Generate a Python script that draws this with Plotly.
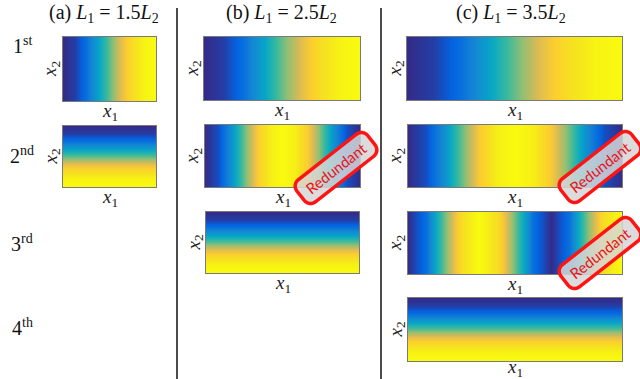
import math
import plotly.graph_objects as go

W, H = 640, 379

# column titles and row labels
titles = ["(a) <i>L</i><sub>1</sub> = 1.5<i>L</i><sub>2</sub>",
          "(b) <i>L</i><sub>1</sub> = 2.5<i>L</i><sub>2</sub>",
          "(c) <i>L</i><sub>1</sub> = 3.5<i>L</i><sub>2</sub>"]
row_labels = ["1<sup>st</sup>", "2<sup>nd</sup>", "3<sup>rd</sup>", "4<sup>th</sup>"]

# normalised mode-shape profiles (0 = dark blue, 1 = yellow)
half_wave = [0.0, 0.04, 0.15, 0.31, 0.5, 0.69, 0.85, 0.96, 1.0]
full_wave = [0.0, 0.07, 0.25, 0.5, 0.75, 0.93, 1.0, 0.93, 0.75, 0.5, 0.25, 0.07, 0.0]
three_half_wave = [0.0, 0.15, 0.5, 0.85, 1.0, 0.85, 0.5, 0.15, 0.0, 0.15, 0.5, 0.85, 1.0]

# modes per column: (direction, profile, redundant?)
col_a = [("x", half_wave, False), ("y", half_wave, False)]
col_b = [("x", half_wave, False), ("x", full_wave, True), ("y", half_wave, False)]
col_c = [("x", half_wave, False), ("x", full_wave, True), ("x", three_half_wave, True), ("y", half_wave, False)]
columns = [col_a, col_b, col_c]

# pixel boxes of the plots (left, right, top, bottom)
boxes = [
    [(63, 156, 37, 101), (63, 156, 126, 187)],
    [(204, 360, 37, 100), (205, 360, 125, 187), (206, 359, 212, 273)],
    [(407, 622, 37, 100), (408, 622, 125, 187), (408, 622, 212, 274), (408, 622, 298, 361)],
]
# stamp centres (px) for redundant modes
stamps = {(1, 1): (336, 168), (2, 1): (600, 167), (2, 2): (600, 253)}
title_x = [104, 281, 511]
row_y = [45, 155, 243, 327]
divider_x = [177, 381]

parula = [[0.0, "#352a87"], [0.11, "#0363e1"], [0.22, "#1485d4"], [0.33, "#06a7c6"],
          [0.44, "#38b99e"], [0.55, "#92bf73"], [0.66, "#d9ba56"], [0.77, "#fcce2e"],
          [0.88, "#f5e41d"], [1.0, "#f9fb0e"]]

serif = "Liberation Serif"


def px(x):
    return x / W


def py(y):
    return 1 - y / H


def stamp_path(cx, cy, w=90, h=28, r=8, ang=38):
    # rounded rectangle rotated by ang degrees (counter-clockwise on screen)
    pts = []
    corners = [(w / 2 - r, -h / 2 + r, -90), (w / 2 - r, h / 2 - r, 0),
               (-w / 2 + r, h / 2 - r, 90), (-w / 2 + r, -h / 2 + r, 180)]
    for ccx, ccy, a0 in corners:
        for s in range(7):
            a = math.radians(a0 + s * 15)
            pts.append((ccx + r * math.cos(a), ccy + r * math.sin(a)))
    t = math.radians(-ang)
    out = []
    for x, y in pts:
        X = cx + x * math.cos(t) - y * math.sin(t)
        Y = cy + x * math.sin(t) + y * math.cos(t)
        out.append("%.5f,%.5f" % (px(X), py(Y)))
    return "M" + " L".join(out) + " Z"


fig = go.Figure()
annotations = []
shapes = []
k = 0
for ci, col in enumerate(columns):
    for ri, (direction, prof, redundant) in enumerate(col):
        k += 1
        l, r, t, b = boxes[ci][ri]
        n = len(prof)
        if direction == "x":
            z = [prof, prof]
            xs = list(range(n))
            ys = [0, 1]
        else:
            z = [[v, v] for v in prof]
            xs = [0, 1]
            ys = list(range(n))
        xa = "x" if k == 1 else "x%d" % k
        ya = "y" if k == 1 else "y%d" % k
        fig.add_trace(go.Heatmap(z=z, x=xs, y=ys, colorscale=parula, zmin=0, zmax=1,
                                 zsmooth="best", showscale=False, hoverinfo="skip",
                                 xaxis=xa, yaxis=ya))
        axn = "" if k == 1 else str(k)
        fig.layout["xaxis" + axn] = dict(domain=[px(l), px(r)], range=[0, max(xs)],
                                         showticklabels=False, ticks="", showgrid=False,
                                         zeroline=False, showline=True, mirror=True,
                                         linecolor="#7a7a7a", linewidth=1, anchor=ya)
        fig.layout["yaxis" + axn] = dict(domain=[py(b), py(t)], range=[max(ys), 0],
                                         showticklabels=False, ticks="", showgrid=False,
                                         zeroline=False, showline=True, mirror=True,
                                         linecolor="#7a7a7a", linewidth=1, anchor=xa)
        # axis labels
        annotations.append(dict(x=px((l + r) / 2), y=py(min(b + 11, 368)), xref="paper", yref="paper",
                                text="<i>x</i><sub>1</sub>", showarrow=False,
                                xanchor="center", yanchor="middle",
                                font=dict(family=serif, size=19, color="#222")))
        annotations.append(dict(x=px(l - 12), y=py((t + b) / 2), xref="paper", yref="paper",
                                text="<i>x</i><sub>2</sub>", showarrow=False, textangle=-90,
                                xanchor="center", yanchor="middle",
                                font=dict(family=serif, size=19, color="#222")))
        if redundant:
            cx, cy = stamps[(ci, ri)]
            shapes.append(dict(type="path", xref="paper", yref="paper", path=stamp_path(cx, cy),
                               fillcolor="rgba(214,214,214,0.85)",
                               line=dict(color="#ff1414", width=3.5), layer="above"))
            annotations.append(dict(x=px(cx), y=py(cy), xref="paper", yref="paper",
                                    text="Redundant", showarrow=False, textangle=-38,
                                    xanchor="center", yanchor="middle",
                                    font=dict(family="Lato", size=15, color="#e8141a")))

for ci, t in enumerate(titles):
    annotations.append(dict(x=px(title_x[ci]), y=py(13), xref="paper", yref="paper",
                            text=t, showarrow=False, xanchor="center", yanchor="middle",
                            font=dict(family=serif, size=20, color="#111")))
for ri, t in enumerate(row_labels):
    annotations.append(dict(x=px(22), y=py(row_y[ri]), xref="paper", yref="paper",
                            text=t, showarrow=False, xanchor="center", yanchor="middle",
                            font=dict(family=serif, size=20, color="#111")))
for dx in divider_x:
    shapes.append(dict(type="line", xref="paper", yref="paper", x0=px(dx), x1=px(dx),
                       y0=py(8), y1=0, line=dict(color="#111", width=1.5)))

fig.update_layout(width=W, height=H, margin=dict(l=0, r=0, t=0, b=0),
                  paper_bgcolor="white", plot_bgcolor="white",
                  annotations=annotations, shapes=shapes, showlegend=False)
# drop the browser's default body margin so the figure sits at the page corner
fig.write_html("out.html", config={"displayModeBar": False},
               post_script="document.body.style.margin='0';")
